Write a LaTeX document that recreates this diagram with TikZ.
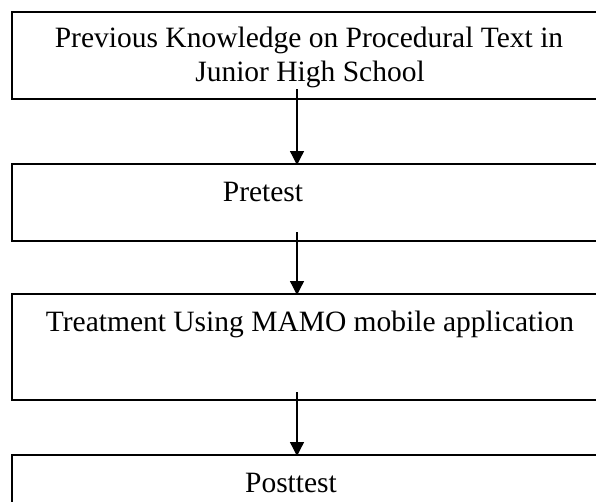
\documentclass[tikz,border=0pt]{standalone}
\usepackage{fontspec}
\setmainfont{Liberation Serif}
\usetikzlibrary{arrows.meta}

\tikzset{
  stage/.style={draw=black, line width=2pt, rectangle, outer sep=0pt, inner sep=0pt},
  caption/.style={anchor=base, inner sep=0pt, font=\fontsize{29.5}{34}\selectfont},
  flow/.style={line width=1.3pt, -{Triangle[width=14pt,length=14pt]}}
}

\begin{document}
\begin{tikzpicture}[x=1pt,y=-1pt]
\useasboundingbox (0,0) rectangle (596,501);
\clip (0,0) rectangle (596,501);

% stage boxes (right edges run past the page)
\node[stage, minimum width=594pt, minimum height=87pt]  (b1) at (309,55.5) {};
\node[stage, minimum width=594pt, minimum height=77pt]  (b2) at (309,202.5) {};
\node[stage, minimum width=594pt, minimum height=106pt] (b3) at (309,347) {};
\node[stage, minimum width=594pt, minimum height=90pt]  (b4) at (309,500) {};

% stage captions
\node[caption] (t1a) at (309,47) {Previous Knowledge on Procedural Text in};
\node[caption] (t1b) at (310,81) {Junior High School};
\node[caption] (t2)  at (263,201) {Pretest};
\node[caption] (t3)  at (310,331) {Treatment Using MAMO mobile application};
\node[caption] (t4)  at (291,492) {Posttest};

% flow arrows
\draw[flow] ([xshift=-12pt,yshift=10pt]b1.south) -- ([xshift=-12pt,yshift=-1pt]b2.north);
\draw[flow] ([xshift=-12pt,yshift=9pt]b2.south) -- ([xshift=-12pt,yshift=-1pt]b3.north);
\draw[flow] ([xshift=-12pt,yshift=8pt]b3.south) -- ([xshift=-12pt,yshift=-1pt]b4.north);
\end{tikzpicture}
\end{document}
